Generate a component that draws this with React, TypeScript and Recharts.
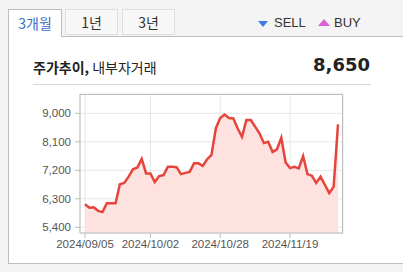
import {
  Area,
  AreaChart,
  CartesianGrid,
  XAxis,
  YAxis,
} from "recharts";

const dates = [
  "2024/09/05", "2024/09/06", "2024/09/09", "2024/09/10", "2024/09/11", "2024/09/12",
  "2024/09/13", "2024/09/19", "2024/09/20", "2024/09/23", "2024/09/24", "2024/09/25",
  "2024/09/26", "2024/09/27", "2024/09/30", "2024/10/02", "2024/10/04", "2024/10/07",
  "2024/10/08", "2024/10/10", "2024/10/11", "2024/10/14", "2024/10/15", "2024/10/16",
  "2024/10/17", "2024/10/18", "2024/10/21", "2024/10/22", "2024/10/23", "2024/10/24",
  "2024/10/25", "2024/10/28", "2024/10/29", "2024/10/30", "2024/10/31", "2024/11/01",
  "2024/11/04", "2024/11/05", "2024/11/06", "2024/11/07", "2024/11/08", "2024/11/11",
  "2024/11/12", "2024/11/13", "2024/11/14", "2024/11/15", "2024/11/18", "2024/11/19",
  "2024/11/20", "2024/11/21", "2024/11/22", "2024/11/25", "2024/11/26", "2024/11/27",
  "2024/11/28", "2024/11/29", "2024/12/02", "2024/12/03", "2024/12/04",
];

const prices = [
  6130, 6020, 6030, 5920, 5880, 6160, 6160, 6160, 6760, 6800, 7000, 7230,
  7290, 7560, 7100, 7100, 6830, 7020, 7050, 7310, 7310, 7300, 7080, 7120,
  7150, 7420, 7420, 7340, 7550, 7690, 8530, 8850, 8960, 8850, 8840, 8520,
  8260, 8790, 8790, 8580, 8370, 8060, 8100, 7780, 7860, 8230, 7450, 7270,
  7310, 7260, 7650, 7080, 7030, 6800, 7000, 6740, 6480, 6680, 8650,
];

const xTicks = ["2024/09/05", "2024/10/02", "2024/10/28", "2024/11/19"];
const yTicks = [5400, 6300, 7200, 8100, 9000];
const tabs = ["3개월", "1년", "3년"];
const lastPrice = "8,650";

const data = dates.map((d, i) => ({ date: d, price: prices[i] }));

const tickStyle = { fontFamily: "'Liberation Sans', Arial, sans-serif", fill: "#555" };

export default function App() {
  return (
    <div
      style={{
        position: "absolute",
        left: 0,
        top: 0,
        width: 403,
        height: 272,
        background: "#f4f4f4",
        overflow: "hidden",
        fontFamily: "'Liberation Sans', 'Noto Sans CJK KR', sans-serif",
      }}
    >
      {/* panel */}
      <div
        style={{
          position: "absolute",
          left: 8,
          top: 36,
          width: 420,
          height: 226,
          background: "#fff",
          border: "1px solid #bdbdbd",
        }}
      />
      {/* tabs */}
      {tabs.map((t, i) => {
        const active = i === 0;
        return (
          <div
            key={t}
            style={{
              position: "absolute",
              left: 8 + i * 57,
              top: 9,
              width: active ? 54 : 53,
              height: active ? 28 : 26,
              boxSizing: "border-box",
              background: active ? "#fff" : "#f7f7f7",
              border: active ? "1px solid #bdbdbd" : "1px solid #dedede",
              borderBottom: active ? "none" : "1px solid #dedede",
              color: active ? "#3a6fc4" : "#333",
              fontSize: 14,
              fontFamily: "'Noto Sans CJK KR', sans-serif",
              display: "flex",
              alignItems: "center",
              justifyContent: "center",
              paddingBottom: active ? 2 : 0,
            }}
          >
            {t}
          </div>
        );
      })}
      {/* legend */}
      <div style={{ position: "absolute", left: 258, top: 21, width: 0, height: 0, borderLeft: "5px solid transparent", borderRight: "5px solid transparent", borderTop: "6px solid #3b7ddd" }} />
      <div style={{ position: "absolute", left: 274, top: 15, fontSize: 13, color: "#333" }}>SELL</div>
      <div style={{ position: "absolute", left: 318, top: 19, width: 0, height: 0, borderLeft: "6px solid transparent", borderRight: "6px solid transparent", borderBottom: "7px solid #db5fd8" }} />
      <div style={{ position: "absolute", left: 334, top: 15, fontSize: 13, color: "#333" }}>BUY</div>

      {/* title */}
      <div
        style={{
          position: "absolute",
          left: 33,
          top: 57,
          fontSize: 14,
          color: "#222",
          fontFamily: "'Noto Sans CJK KR', sans-serif",
          whiteSpace: "nowrap",
          lineHeight: "20px",
        }}
      >
        <b>주가추이,</b> 내부자거래
      </div>
      <div
        style={{
          position: "absolute",
          right: 33,
          top: 54,
          fontSize: 18,
          fontWeight: "bold",
          color: "#222",
          fontFamily: "'DejaVu Sans', sans-serif",
          lineHeight: "22px",
        }}
      >
        {lastPrice}
      </div>
      <div style={{ position: "absolute", left: 33, top: 84, width: 338, height: 1, background: "#d6d6d6" }} />

      {/* chart */}
      <div style={{ position: "absolute", left: 0, top: 0 }}>
        <AreaChart
          width={403}
          height={272}
          data={data}
          margin={{ top: 94, right: 60, bottom: 9, left: 30 }}
        >
          <CartesianGrid stroke="#e6e6e6" vertical horizontal />
          <XAxis
            dataKey="date"
            ticks={xTicks}
            interval={0}
            padding={{ left: 5, right: 5 }}
            height={30}
            tickSize={5}
            tickMargin={2}
            stroke="#bdbdbd"
            tick={{ ...tickStyle, fontSize: 11.5 }}
          />
          <YAxis
            domain={[5220, 9610]}
            ticks={yTicks}
            width={50}
            tickSize={5}
            tickMargin={4}
            stroke="#bdbdbd"
            tickFormatter={(v: number) => v.toLocaleString("en-US")}
            tick={{ ...tickStyle, fontSize: 11.5 }}
          />
          <Area
            type="linear"
            dataKey="price"
            stroke="#e5453b"
            strokeWidth={2.5}
            fill="#fde2e0"
            fillOpacity={1}
            dot={false}
            activeDot={false}
            isAnimationActive={false}
          />
        </AreaChart>
      </div>
      {/* plot frame */}
      <div
        style={{
          position: "absolute",
          left: 80,
          top: 94,
          width: 263,
          height: 139,
          boxSizing: "border-box",
          border: "1px solid #bdbdbd",
          borderLeft: "none",
          borderBottom: "none",
          pointerEvents: "none",
        }}
      />
    </div>
  );
}
